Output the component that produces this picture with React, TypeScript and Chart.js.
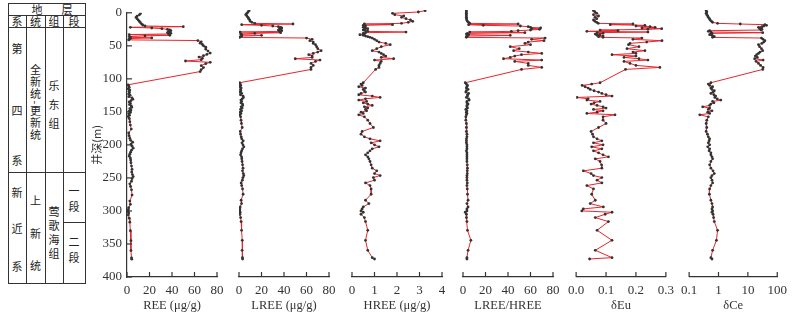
import React, { useEffect, useRef } from "react";
import { Chart, registerables } from "chart.js";
Chart.register(...registerables);

// depth of each sample (m)
const depths = [
  1, 3, 5, 7, 9, 11, 13, 15, 17, 18.5, 20, 21, 22, 23, 24, 25, 26, 27, 28, 29, 30, 31, 32, 33, 34, 35, 36, 37, 38, 39, 40, 41, 42,
  44, 46, 48, 50, 52, 55, 58, 61, 63, 65, 67, 69, 71, 73, 75, 77, 80, 83, 86, 89,
  109, 111, 113, 115, 117, 119, 121, 123, 125, 127, 129, 131, 133, 135, 137, 139, 141, 143, 145, 147,
  149, 151, 153, 155, 157, 160, 165, 170, 176, 182, 186, 190, 193, 196, 199, 202, 205, 208, 211, 214,
  217, 220, 223, 227, 232, 237, 241, 245, 248, 251, 255, 259, 263, 268,
  276, 285, 290, 295, 298, 301, 303, 306, 311, 317, 330, 345, 360, 371, 373,
];

const ree = [
  12, 11, 9, 8, 9, 10, 11, 12, 13, 14, 16, 50, 3, 22, 31, 36, 38, 39, 37, 38, 36, 39, 37, 2, 38, 16, 2, 3, 22, 3, 2, 1.5, 63,
  66, 65, 67, 68, 70, 70, 72, 74, 71, 68, 64, 67, 66, 52, 74, 70, 66, 68, 66, 65,
  1.0, 1.5, 2.0, 1.2, 2.5, 1.8, 2.2, 1.5, 2.8, 1.6, 4.5, 5.2, 3.5, 2.0, 3.0, 2.2, 3.8, 4.2, 2.5, 3.5,
  2.0, 3.0, 1.5, 2.2, 1.2, 2.0, 2.5, 3.0, 3.8, 1.5, 1.8, 2.5, 3.2, 5.0, 3.5, 4.5, 5.5, 4.0, 3.2, 2.5,
  2.0, 3.0, 3.2, 3.5, 4.0, 4.5, 4.2, 4.8, 5.5, 4.5, 4.0, 2.5, 3.2, 4.0,
  4.5, 2.5, 3.0, 1.5, 1.2, 1.0, 1.5, 1.2, 2.0, 2.5, 3.0, 3.5, 3.5, 4.0, 4.2,
];

const lree = [
  9, 8, 7, 6, 7, 8, 8.5, 9.5, 10, 11.5, 14, 48, 2.4, 20, 30, 35, 37, 38, 36, 37, 35, 38, 36, 1, 37, 14, 1.5, 2.5, 20, 2.4, 1.3, 0.7, 60,
  65, 63, 66, 66, 68, 69, 70, 73, 70, 66, 62, 65, 65, 50, 72, 68, 64, 66, 64, 64,
  0.5, 1.1, 1.55, 0.9, 1.9, 1.3, 1.65, 0.9, 2.4, 1.3, 3.6, 3.95, 2.9, 1.7, 2.35, 1.7, 3.1, 3.3, 1.95, 2.8,
  1.4, 2.35, 1.1, 1.7, 0.9, 1.45, 1.8, 2.2, 2.85, 1.05, 1.4, 1.95, 2.4, 3.75, 2.65, 3.5, 4.3, 3.1, 2.4, 1.8,
  1.4, 2.3, 2.45, 2.7, 3.15, 3.6, 3.1, 3.8, 4.25, 3.55, 3.0, 1.9, 2.4, 3.15,
  3.65, 1.9, 2.25, 1.0, 0.75, 0.6, 1.0, 0.8, 1.45, 1.9, 2.3, 2.9, 2.8, 3.1, 3.2,
];

const hree = [
  3.25, 2.95, 1.8, 1.9, 2.3, 2.2, 2.4, 2.6, 2.7, 2.5, 2.2, 0.55, 1.8, 0.5, 0.6, 0.55, 0.5, 0.6, 0.7, 0.55, 0.5, 0.6, 0.7, 2.4, 0.6, 0.5, 0.55, 0.35, 0.5, 0.6, 0.7, 0.8, 0.9,
  1.0, 1.1, 1.2, 1.5, 1.7, 1.3, 1.1, 0.9, 1.2, 1.3, 1.4, 1.5, 1.3, 1.85, 1.0, 1.3, 1.25, 1.2, 1.2, 1.05,
  0.5, 0.4, 0.45, 0.3, 0.6, 0.5, 0.55, 0.6, 0.4, 0.3, 0.9, 1.25, 0.6, 0.3, 0.65, 0.5, 0.7, 0.9, 0.55, 0.7,
  0.6, 0.65, 0.4, 0.5, 0.3, 0.55, 0.7, 0.8, 0.95, 0.45, 0.4, 0.55, 0.8, 1.25, 0.85, 1.0, 1.2, 0.9, 0.8, 0.7,
  0.6, 0.7, 0.75, 0.8, 0.85, 0.9, 1.1, 1.0, 1.25, 0.95, 1.0, 0.6, 0.8, 0.85,
  0.85, 0.6, 0.75, 0.5, 0.45, 0.4, 0.5, 0.4, 0.55, 0.6, 0.7, 0.6, 0.7, 0.9, 1.0,
];

const lreeHree = [
  3, 3, 3, 3, 3, 3, 3.2, 3.3, 4, 5, 6, 49, 5, 18, 51, 58, 60, 69, 61, 68, 60, 49, 43, 6, 55, 4, 3, 5, 42, 4, 3, 3, 73,
  61, 72, 58, 55, 60, 42, 50, 45, 58, 70, 52, 46, 42, 36, 70, 46, 58, 58, 70, 52,
  2, 3, 4, 3.5, 3, 4.5, 3, 2.5, 5, 4, 4, 3, 5, 5.5, 3.5, 3.5, 4.5, 3.5, 3.5, 4,
  2.5, 3.5, 3, 3.5, 3, 2.5, 2.5, 3, 3, 3, 3.5, 3.5, 3, 3, 3, 3.5, 3.5, 3.5, 3, 3.5,
  3.5, 3.5, 3.5, 3.5, 3.8, 4, 3.8, 3.8, 3.5, 3.5, 3.5, 3.8, 3.5, 3.8,
  4, 4.5, 3.5, 4.5, 3.5, 3.5, 2, 3, 3, 3.5, 4, 7, 4.5, 3.5, 3.5,
];

const deltaEu = [
  0.058, 0.063, 0.069, 0.058, 0.075, 0.063, 0.069, 0.058, 0.063, 0.069, 0.074, 0.19, 0.114, 0.23, 0.2, 0.247, 0.264, 0.22, 0.286, 0.24, 0.08, 0.14, 0.036, 0.24, 0.07, 0.09, 0.064, 0.08, 0.07, 0.09, 0.075, 0.09, 0.22,
  0.19, 0.287, 0.236, 0.18, 0.175, 0.21, 0.17, 0.23, 0.19, 0.2, 0.12, 0.2, 0.16, 0.21, 0.24, 0.16, 0.18, 0.2, 0.28, 0.165,
  0.08, 0.052, 0.02, 0.03, 0.04, 0.047, 0.06, 0.075, 0.086, 0.1, 0.12, 0.003, 0.04, 0.036, 0.08, 0.06, 0.05, 0.07, 0.09, 0.1,
  0.058, 0.09, 0.07, 0.036, 0.13, 0.09, 0.09, 0.1, 0.075, 0.05, 0.055, 0.058, 0.07, 0.086, 0.058, 0.09, 0.052, 0.086, 0.058, 0.075,
  0.09, 0.108, 0.064, 0.08, 0.085, 0.086, 0.024, 0.05, 0.058, 0.086, 0.07, 0.086, 0.036, 0.058,
  0.052, 0.064, 0.047, 0.091, 0.024, 0.019, 0.12, 0.097, 0.064, 0.108, 0.07, 0.12, 0.064, 0.12, 0.045,
];

const deltaCe = [
  0.38, 0.4, 0.38, 0.4, 0.43, 0.45, 0.49, 0.52, 0.58, 0.63, 0.93, 5.5, 38, 43, 35, 30, 23, 29, 25, 30, 28, 0.5, 0.45, 0.55, 32, 0.6, 0.55, 0.5, 0.6, 0.65, 0.72, 0.63, 29,
  33, 38, 35, 30, 23, 25, 29, 32, 26, 23, 20, 18, 21, 17, 33, 19, 23, 27, 33, 32,
  0.55, 0.45, 0.5, 0.63, 0.55, 0.6, 0.72, 0.65, 0.55, 0.7, 0.8, 0.75, 0.9, 1.2, 0.63, 0.7, 0.55, 0.5, 0.29, 0.5,
  0.45, 0.6, 0.43, 0.5, 0.23, 0.45, 0.4, 0.38, 0.4, 0.38, 0.42, 0.45, 0.5, 0.48, 0.45, 0.5, 0.43, 0.5, 0.48, 0.55,
  0.55, 0.6, 0.63, 0.55, 0.5, 0.55, 0.65, 0.72, 0.6, 0.55, 0.6, 0.63, 0.55, 0.5,
  0.49, 0.55, 0.6, 0.63, 0.6, 0.63, 0.6, 0.65, 0.68, 0.72, 0.93, 0.85, 0.63, 0.55, 0.6,
];

const depthTicks = [0, 50, 100, 150, 200, 250, 300, 350, 400];
const ticks80 = [0, 20, 40, 60, 80];
const ticks4 = [0, 1, 2, 3, 4];
const ticksEu = [0, 0.1, 0.2, 0.3];
const ticksCe = [0.1, 1, 10, 100];
const axisTitles = ["REE (μg/g)", "LREE (μg/g)", "HREE (μg/g)", "LREE/HREE", "δEu", "δCe"];
const depthTitle = "井深(m)";

const SERIF = "'Liberation Serif', 'Times New Roman', serif";
const CJK = "'Noto Sans CJK SC', 'Noto Sans', sans-serif";
const INK = "#333";

const innerTicks = {
  id: "innerTicks",
  afterDraw(chart: any) {
    const ctx = chart.ctx;
    const xs = chart.scales.x;
    const ys = chart.scales.y;
    ctx.save();
    ctx.strokeStyle = INK;
    ctx.lineWidth = 1.2;
    xs.ticks.forEach((t: any) => {
      const px = xs.getPixelForValue(t.value);
      ctx.beginPath();
      ctx.moveTo(px, xs.top);
      ctx.lineTo(px, xs.top - 5);
      ctx.stroke();
    });
    if (ys.options.display) {
      ys.ticks.forEach((t: any) => {
        const py = ys.getPixelForValue(t.value);
        ctx.beginPath();
        ctx.moveTo(ys.right, py);
        ctx.lineTo(ys.right + 5, py);
        ctx.stroke();
      });
    }
    ctx.restore();
  },
};

type PanelProps = {
  values: number[];
  xType: string;
  min: number;
  max: number;
  tickVals: number[];
  fmt: (v: number) => string;
  title: string;
  plotLeft: number;
  showY: boolean;
};

const PLOT_W = 90;
const SIDE = 14;
const YAXIS_W = 45;

function Panel({ values, xType, min, max, tickVals, fmt, title, plotLeft, showY }: PanelProps) {
  const ref = useRef<HTMLCanvasElement | null>(null);
  const padL = showY ? YAXIS_W : SIDE;
  const width = padL + PLOT_W + SIDE;
  const left = plotLeft - padL;
  useEffect(() => {
    if (!ref.current) return;
    const yAxis: any = {
      type: "linear",
      reverse: true,
      min: 0,
      max: 400,
      display: showY,
      afterBuildTicks: (s: any) => {
        s.ticks = depthTicks.map((v) => ({ value: v }));
      },
      grid: { display: false, drawTicks: false },
      border: { display: true, color: INK, width: 1.2 },
      ticks: {
        padding: 5,
        color: INK,
        autoSkip: false,
        font: { family: SERIF, size: 13 },
      },
      title: {
        display: true,
        text: depthTitle,
        color: INK,
        font: { family: CJK, size: 11 },
        padding: { top: 8, bottom: 0 },
      },
    };
    if (showY) {
      yAxis.afterFit = (s: any) => {
        s.width = YAXIS_W;
      };
    }
    const chart = new Chart(ref.current, {
      type: "scatter",
      data: {
        datasets: [
          {
            data: depths.map((d, i) => ({ x: values[i], y: d })),
            showLine: true,
            borderColor: "#e8262b",
            borderWidth: 1,
            pointRadius: 1.4,
            pointBackgroundColor: "#333",
            pointBorderColor: "#333",
            pointBorderWidth: 0,
            tension: 0,
          } as any,
        ],
      },
      options: {
        responsive: false,
        maintainAspectRatio: false,
        animation: false,
        layout: { padding: { left: showY ? 0 : SIDE, right: SIDE, top: 10, bottom: 0 } },
        plugins: { legend: { display: false }, tooltip: { enabled: false } },
        scales: {
          x: {
            type: xType as any,
            position: "bottom",
            min,
            max,
            afterBuildTicks: (s: any) => {
              s.ticks = tickVals.map((v) => ({ value: v }));
            },
            afterFit: (s: any) => {
              s.height = 40;
            },
            grid: { display: false, drawTicks: false },
            border: { display: true, color: INK, width: 1.2 },
            ticks: {
              padding: 6,
              color: INK,
              autoSkip: false,
              maxRotation: 0,
              font: { family: SERIF, size: 13 },
              callback: (v: any) => fmt(Number(v)),
            },
            title: {
              display: true,
              text: title,
              color: INK,
              font: { family: SERIF, size: 12.5 },
              padding: { top: 0, bottom: 4 },
            },
          },
          y: yAxis,
        },
      } as any,
      plugins: [innerTicks],
    });
    return () => chart.destroy();
  }, []);
  return (
    <canvas
      ref={ref}
      width={width}
      height={317}
      style={{ position: "absolute", left, top: 0, width, height: 317 }}
    />
  );
}

const HLine = ({ x1, x2, y }: { x1: number; x2: number; y: number }) => (
  <div style={{ position: "absolute", left: x1, top: y, width: x2 - x1 + 1, height: 1, background: INK }} />
);
const VLine = ({ x, y1, y2 }: { x: number; y1: number; y2: number }) => (
  <div style={{ position: "absolute", left: x, top: y1, width: 1, height: y2 - y1 + 1, background: INK }} />
);
const Ch = ({ t, cx, cy }: { t: string; cx: number; cy: number }) => (
  <div
    style={{
      position: "absolute",
      left: cx - 8,
      top: cy - 8,
      width: 16,
      height: 16,
      lineHeight: "16px",
      textAlign: "center",
      fontSize: 11,
      fontFamily: CJK,
      color: "#222",
    }}
  >
    {t}
  </div>
);
const VText = ({ t, cx, cy, spacing }: { t: string; cx: number; cy: number; spacing: number }) => (
  <div
    style={{
      position: "absolute",
      left: cx,
      top: cy,
      transform: "translate(-50%, -50%)",
      writingMode: "vertical-rl",
      fontSize: 11,
      lineHeight: "12px",
      letterSpacing: spacing,
      fontFamily: CJK,
      color: "#222",
      whiteSpace: "nowrap",
    }}
  >
    {t}
  </div>
);

function StrataTable() {
  return (
    <>
      <HLine x1={8} x2={85} y={3} />
      <HLine x1={8} x2={85} y={15} />
      <HLine x1={8} x2={85} y={27} />
      <HLine x1={8} x2={85} y={172} />
      <HLine x1={63} x2={85} y={222} />
      <HLine x1={8} x2={85} y={283} />
      <VLine x={8} y1={3} y2={283} />
      <VLine x={85} y1={3} y2={283} />
      <VLine x={26} y1={15} y2={283} />
      <VLine x={45} y1={15} y2={283} />
      <VLine x={63} y1={15} y2={283} />
      <Ch t="地" cx={37} cy={9} />
      <Ch t="层" cx={67} cy={9} />
      <Ch t="系" cx={17} cy={21} />
      <Ch t="统" cx={35.5} cy={21} />
      <Ch t="组" cx={54} cy={21} />
      <Ch t="段" cx={74} cy={21} />
      <Ch t="第" cx={17} cy={48} />
      <Ch t="四" cx={17} cy={110} />
      <Ch t="系" cx={17} cy={160} />
      <Ch t="新" cx={17} cy={192} />
      <Ch t="近" cx={17} cy={228} />
      <Ch t="系" cx={17} cy={266} />
      <VText t="全新统-更新统" cx={35.5} cy={103} spacing={1} />
      <Ch t="上" cx={35.5} cy={200} />
      <Ch t="新" cx={35.5} cy={233} />
      <Ch t="统" cx={35.5} cy={265} />
      <Ch t="乐" cx={54} cy={85} />
      <Ch t="东" cx={54} cy={104} />
      <Ch t="组" cx={54} cy={123} />
      <VText t="莺歌海组" cx={54} cy={234} spacing={3} />
      <Ch t="一" cx={74} cy={190} />
      <Ch t="段" cx={74} cy={206} />
      <Ch t="二" cx={74} cy={241} />
      <Ch t="段" cx={74} cy={257} />
    </>
  );
}

const fmtInt = (v: number) => String(Math.round(v));
const fmtEu = (v: number) => v.toFixed(1);
const fmtCe = (v: number) => (v < 1 ? v.toFixed(1) : String(Math.round(v)));

export default function App() {
  return (
    <div style={{ position: "absolute", left: 0, top: 0, width: 792, height: 317, background: "#fff", overflow: "hidden" }}>
      <StrataTable />
      <Panel values={ree} xType="linear" min={0} max={80} tickVals={ticks80} fmt={fmtInt} title={axisTitles[0]} plotLeft={127} showY={true} />
      <Panel values={lree} xType="linear" min={0} max={80} tickVals={ticks80} fmt={fmtInt} title={axisTitles[1]} plotLeft={239} showY={false} />
      <Panel values={hree} xType="linear" min={0} max={4} tickVals={ticks4} fmt={fmtInt} title={axisTitles[2]} plotLeft={352} showY={false} />
      <Panel values={lreeHree} xType="linear" min={0} max={80} tickVals={ticks80} fmt={fmtInt} title={axisTitles[3]} plotLeft={463} showY={false} />
      <Panel values={deltaEu} xType="linear" min={0} max={0.3} tickVals={ticksEu} fmt={fmtEu} title={axisTitles[4]} plotLeft={576} showY={false} />
      <Panel values={deltaCe} xType="logarithmic" min={0.1} max={100} tickVals={ticksCe} fmt={fmtCe} title={axisTitles[5]} plotLeft={689} showY={false} />
    </div>
  );
}
